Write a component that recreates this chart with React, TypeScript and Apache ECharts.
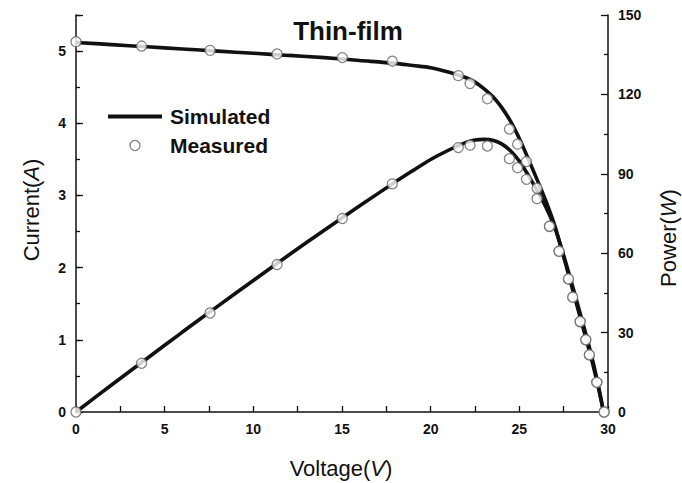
import React, { useEffect, useRef } from "react";
import * as echarts from "echarts";

// Simulated curves
const simVoltage = [0, 2, 4, 6, 8, 10, 12, 14, 16, 18, 19, 20, 21, 22, 22.5, 23, 23.5, 24, 24.5, 25, 25.5, 26, 26.5, 27, 27.5, 28, 28.5, 29, 29.4, 29.75];
const simCurrent = [5.12, 5.09, 5.06, 5.03, 5.0, 4.97, 4.94, 4.91, 4.87, 4.83, 4.8, 4.77, 4.71, 4.63, 4.57, 4.48, 4.37, 4.22, 4.03, 3.79, 3.51, 3.22, 2.92, 2.58, 2.15, 1.7, 1.25, 0.8, 0.4, 0];
const simPower = [0, 10.2, 20.2, 30.2, 40.0, 49.7, 59.3, 68.7, 77.9, 86.9, 91.2, 95.4, 98.9, 101.9, 102.8, 103.0, 102.7, 101.3, 98.7, 94.8, 89.5, 83.7, 77.4, 69.7, 59.1, 47.6, 35.6, 23.2, 11.8, 0];

// Measured points
const measVoltage = [0, 3.7, 7.56, 11.34, 15.02, 17.84, 21.56, 22.22, 23.2, 24.44, 24.9, 25.4, 26.0, 26.7, 27.24, 27.77, 28.01, 28.43, 28.75, 28.95, 29.37, 29.78];
const measCurrent = [5.13, 5.07, 5.01, 4.96, 4.91, 4.86, 4.66, 4.55, 4.34, 3.92, 3.71, 3.47, 3.1, 2.57, 2.23, 1.84, 1.59, 1.25, 1.0, 0.79, 0.41, 0];
const measPower = [0, 18.4, 37.4, 55.7, 73.1, 86.2, 99.9, 100.8, 100.5, 95.7, 92.3, 87.9, 80.6, 70.2, 60.7, 50.3, 43.4, 34.2, 27.3, 21.6, 11.2, 0];

const FONT = "'Liberation Sans', Arial, sans-serif";

export default function App() {
  const ref = useRef<HTMLDivElement>(null);
  useEffect(() => {
    if (!ref.current) return;
    const chart = echarts.init(ref.current, undefined, { renderer: "svg" });
    const zip = (xs: number[], ys: number[]) => xs.map((x, i) => [x, ys[i]]);
    const tickLabel = { color: "#111", fontFamily: FONT, fontWeight: "bold" as const, fontSize: 14 };
    const lineStyle = { color: "#111", width: 3.6 };
    const scatterStyle = { color: "#fff", borderColor: "#666", borderWidth: 1.3 };
    chart.setOption({
      animation: false,
      backgroundColor: "#fff",
      grid: { left: 76, right: 74, top: 15, bottom: 71, containLabel: false },
      legend: {
        data: [
          { name: "Simulated", icon: "path://M0,0H54V4H0Z", itemStyle: { color: "#111" } },
          { name: "Measured", icon: "circle", itemStyle: { color: "#fff", borderColor: "#666", borderWidth: 1.3 } },
        ],
        orient: "vertical",
        left: 108,
        top: 106,
        padding: 0,
        itemWidth: 54,
        itemHeight: 10,
        itemGap: 8,
        textStyle: { fontFamily: FONT, fontWeight: "bold", fontSize: 21, color: "#111", padding: [0, 0, 0, 3] },
      },
      xAxis: {
        type: "value",
        min: 0,
        max: 30,
        interval: 5,
        axisLine: { show: true, lineStyle: { color: "#111", width: 1.5 } },
        axisTick: { inside: true, length: 6, lineStyle: { color: "#111", width: 1.3 } },
        minorTick: { show: true, splitNumber: 2, length: 6, lineStyle: { color: "#111", width: 1.3 } },
        axisLabel: { ...tickLabel, margin: 10 },
        splitLine: { show: false },
      },
      yAxis: [
        {
          type: "value",
          position: "left",
          min: 0,
          max: 5.5,
          interval: 0.5,
          axisLine: { show: true, lineStyle: { color: "#111", width: 1.5 } },
          axisTick: { inside: true, length: 4, lineStyle: { color: "#111", width: 1.3 } },
          axisLabel: {
            ...tickLabel,
            margin: 10,
            formatter: (v: number) => (Number.isInteger(v) ? String(v) : ""),
          },
          splitLine: { show: false },
        },
        {
          type: "value",
          position: "right",
          min: 0,
          max: 150,
          interval: 30,
          axisLine: { show: true, lineStyle: { color: "#111", width: 1.5 } },
          axisTick: { inside: true, length: 7, lineStyle: { color: "#111", width: 1.3 } },
          minorTick: { show: true, splitNumber: 2, length: 4, lineStyle: { color: "#111", width: 1.3 } },
          axisLabel: { ...tickLabel, margin: 10 },
          splitLine: { show: false },
        },
        {
          type: "value",
          position: "left",
          min: 0,
          max: 5.5,
          interval: 1,
          axisLine: { show: false },
          axisTick: { show: true, inside: true, length: 7, lineStyle: { color: "#111", width: 1.3 } },
          axisLabel: { show: false },
          splitLine: { show: false },
        },
      ],
      series: [
        {
          name: "Simulated",
          type: "line",
          yAxisIndex: 0,
          data: zip(simVoltage, simCurrent),
          symbol: "none",
          smooth: 0.3,
          lineStyle,
          itemStyle: { color: "#111" },
          z: 2,
        },
        {
          name: "Simulated",
          type: "line",
          yAxisIndex: 1,
          data: zip(simVoltage, simPower),
          symbol: "none",
          smooth: 0.3,
          lineStyle,
          itemStyle: { color: "#111" },
          z: 2,
        },
        {
          name: "Measured",
          type: "scatter",
          yAxisIndex: 0,
          data: zip(measVoltage, measCurrent),
          symbol: "circle",
          symbolSize: 10,
          itemStyle: scatterStyle,
          z: 3,
        },
        {
          name: "Measured",
          type: "scatter",
          yAxisIndex: 1,
          data: zip(measVoltage, measPower),
          symbol: "circle",
          symbolSize: 10,
          itemStyle: scatterStyle,
          z: 3,
        },
      ],
      graphic: [
        {
          type: "text",
          x: 348,
          y: 31,
          style: {
            text: "Thin-film",
            fontFamily: FONT,
            fontWeight: "bold",
            fontSize: 26,
            fill: "#111",
            align: "center",
            verticalAlign: "middle",
          },
        },
        {
          type: "text",
          x: 31,
          y: 210,
          rotation: Math.PI / 2,
          style: {
            text: "{a|Current(}{i|A}{a|)}",
            align: "center",
            verticalAlign: "middle",
            rich: {
              a: { fontFamily: FONT, fontSize: 22, fill: "#111" },
              i: { fontFamily: FONT, fontSize: 22, fontStyle: "italic", fill: "#111" },
            },
          },
        },
        {
          type: "text",
          x: 668,
          y: 238,
          rotation: Math.PI / 2,
          style: {
            text: "{a|Power(}{i|W}{a|)}",
            align: "center",
            verticalAlign: "middle",
            rich: {
              a: { fontFamily: FONT, fontSize: 22, fill: "#111" },
              i: { fontFamily: FONT, fontSize: 22, fontStyle: "italic", fill: "#111" },
            },
          },
        },
        {
          type: "text",
          x: 341,
          y: 468,
          style: {
            text: "{a|Voltage(}{i|V}{a|)}",
            align: "center",
            verticalAlign: "middle",
            rich: {
              a: { fontFamily: FONT, fontSize: 22, fill: "#111" },
              i: { fontFamily: FONT, fontSize: 22, fontStyle: "italic", fill: "#111" },
            },
          },
        },
      ],
    });
    return () => chart.dispose();
  }, []);
  return <div ref={ref} style={{ width: 682, height: 483, position: "absolute", left: 0, top: 0 }} />;
}
